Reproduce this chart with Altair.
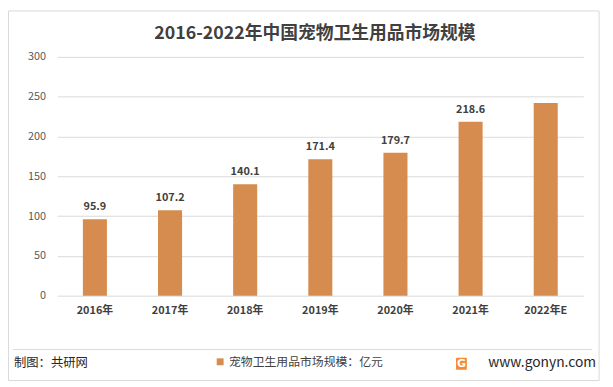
import altair as alt
import pandas as pd

categories = ["2016年", "2017年", "2018年", "2019年", "2020年", "2021年", "2022年E"]
values = [95.9, 107.2, 140.1, 171.4, 179.7, 218.6, 242.0]
labels = ["95.9", "107.2", "140.1", "171.4", "179.7", "218.6", ""]
series_name = "宠物卫生用品市场规模：亿元"
y_ticks = [0, 50, 100, 150, 200, 250, 300]

title_text = "2016-2022年中国宠物卫生用品市场规模"
source_text = "制图：共研网"
site_text = "www.gonyn.com"

BAR = "#D68C4E"
FONT = "Noto Sans CJK SC"

df = pd.DataFrame({"cat": categories, "value": values, "label": labels,
                   "series": [series_name] * len(categories)})
one = pd.DataFrame({"k": [1]})

x_enc = alt.X("cat:N", sort=categories, title=None,
              scale=alt.Scale(paddingInner=0.68, paddingOuter=0.34),
              axis=alt.Axis(labelAngle=0, ticks=False, domain=False,
                            labelPadding=9, labelFontSize=11,
                            labelColor="#404040", labelFont=FONT,
                            labelFontWeight="bold"))
y_enc = alt.Y("value:Q", title=None,
              scale=alt.Scale(domain=[0, 300], nice=False),
              axis=alt.Axis(values=y_ticks, ticks=False, domain=False,
                            labelPadding=12, labelFontSize=11,
                            labelColor="#595959", labelFont=FONT,
                            gridColor="#D9D9D9", gridWidth=1))

bars = alt.Chart(df).mark_bar().encode(
    x=x_enc, y=y_enc,
    color=alt.Color("series:N", scale=alt.Scale(range=[BAR]),
                    legend=alt.Legend(orient="none", legendX=159, legendY=303,
                                      title=None, symbolType="square",
                                      symbolSize=49, symbolStrokeWidth=0,
                                      labelFontSize=12, labelColor="#404040",
                                      labelFont=FONT, padding=0, labelOffset=3)))

texts = alt.Chart(df).mark_text(baseline="alphabetic", dy=-9, fontSize=11,
                                fontWeight="bold", color="#404040",
                                font=FONT).encode(
    x=alt.X("cat:N", sort=categories), y="value:Q", text="label:N")

title = alt.Chart(one).mark_text(fontSize=18, fontWeight="bold",
                                 color="#404040", font=FONT,
                                 align="center", baseline="middle").encode(
    x=alt.value(261), y=alt.value(-23), text=alt.value(title_text))

sep = alt.Chart(one).mark_rule(color="#D9D9D9", strokeWidth=1).encode(
    x=alt.value(-45), x2=alt.value(542), y=alt.value(296.5))

border = alt.Chart(one).mark_rect(fillOpacity=0, stroke="#D9D9D9",
                                  strokeWidth=1).encode(
    x=alt.value(-49.5), x2=alt.value(549), y=alt.value(-46.5), y2=alt.value(328))

source = alt.Chart(one).mark_text(fontSize=12.5, color="#262626", font=FONT,
                                  align="left", baseline="middle").encode(
    x=alt.value(-44), y=alt.value(310), text=alt.value(source_text))

site = alt.Chart(one).mark_text(fontSize=14, color="#262626", font=FONT,
                                align="right", baseline="middle").encode(
    x=alt.value(546), y=alt.value(310), text=alt.value(site_text))

logo_box = alt.Chart(one).mark_rect(color="#F28B3A", cornerRadius=1).encode(
    x=alt.value(404), x2=alt.value(415), y=alt.value(305), y2=alt.value(317))
logo_g = alt.Chart(one).mark_text(fontSize=11, fontWeight="bold", color="white",
                                  font="DejaVu Sans", align="center",
                                  baseline="middle").encode(
    x=alt.value(409.5), y=alt.value(311.5), text=alt.value("G"))

chart = alt.layer(border, bars, texts, title, sep, source, site, logo_box,
                  logo_g).properties(
    width=533, height=242,
    padding={"left": 50, "top": 47, "right": 22, "bottom": 90},
    autosize=alt.AutoSizeParams(type="none"),
    background="white",
).configure_view(strokeWidth=0).configure_axis(labelFont=FONT)

chart.save("out.html", embed_options={"renderer": "svg", "actions": False})
